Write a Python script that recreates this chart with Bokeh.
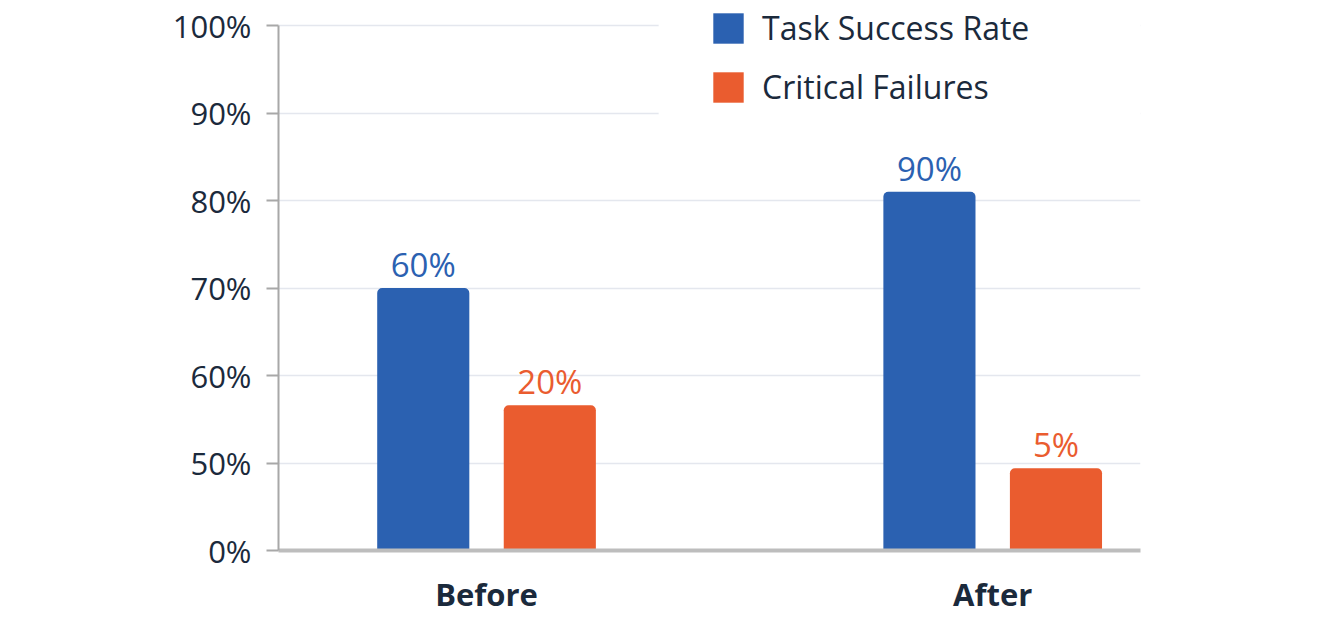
from bokeh.plotting import figure
from bokeh.models import (ColumnDataSource, Range1d, FixedTicker, Legend, LegendItem, VBar,
                          BoxAnnotation)
from bokeh.core.properties import value
from bokeh.embed import file_html
from bokeh.resources import INLINE

# ---- data ----
categories = ["Before", "After"]
success_labels = ["60%", "90%"]          # printed labels
failure_labels = ["20%", "5%"]
success_on_axis = [70, 81]               # bar tops as read on the drawn axis (%)
failure_on_axis = [56.6, 47]
tick_values = [0, 50, 60, 70, 80, 90, 100]
series_names = ["Task Success Rate", "Critical Failures"]

BLUE = "#2b61b1"
ORANGE = "#ea5c2f"
TEXT = "#1b2a3c"
FONT = "Open Sans"


def axis_pos(v):
    # broken axis: 0-50 occupies one step, then one step per 10%
    return v / 50.0 if v <= 50 else 1 + (v - 50) / 10.0


xs = list(range(len(categories)))
off = 0.125
src_s = ColumnDataSource(dict(x=[i - off for i in xs], top=[axis_pos(v) for v in success_on_axis], lab=success_labels))
src_f = ColumnDataSource(dict(x=[i + off for i in xs], top=[axis_pos(v) for v in failure_on_axis], lab=failure_labels))

p = figure(width=1305, height=619, output_backend="svg", toolbar_location=None,
           x_range=Range1d(-0.411, 1.292), y_range=Range1d(0, 6.286),
           min_border_left=278, min_border_right=165, min_border_top=0, min_border_bottom=69)
p.outline_line_color = None
p.background_fill_color = "white"

# hide the top grid lines behind the legend area
p.add_layout(BoxAnnotation(left=0.34, bottom=4.7, fill_color="white", fill_alpha=1,
                           line_color=None, level="underlay"))

bar_kw = {}
if "border_radius" in VBar.properties():
    bar_kw["border_radius"] = (5, 5, 0, 0)

r1 = p.vbar(x="x", top="top", bottom=0, width=0.182, source=src_s, fill_color=BLUE, line_color=None, **bar_kw)
r2 = p.vbar(x="x", top="top", bottom=0, width=0.182, source=src_f, fill_color=ORANGE, line_color=None, **bar_kw)

p.text(x="x", y="top", text="lab", source=src_s, text_align="center", text_baseline="bottom",
       y_offset=-1, text_font=value(FONT), text_font_size="33px", text_color=BLUE)
p.text(x="x", y="top", text="lab", source=src_f, text_align="center", text_baseline="bottom",
       y_offset=-1, text_font=value(FONT), text_font_size="33px", text_color=ORANGE)

# y axis
ypos = [axis_pos(v) for v in tick_values]
p.yaxis.ticker = FixedTicker(ticks=ypos)
p.yaxis.major_label_overrides = {y: f"{v}%" for y, v in zip(ypos, tick_values)}
p.yaxis.bounds = (0, 6)
p.yaxis.axis_line_color = "#a8a8a8"
p.yaxis.axis_line_width = 2
p.yaxis.major_tick_line_color = "#a8a8a8"
p.yaxis.major_tick_line_width = 2
p.yaxis.major_tick_out = 12
p.yaxis.major_tick_in = 0
p.yaxis.minor_tick_line_color = None
p.yaxis.major_label_standoff = 15
p.yaxis.major_label_text_font = FONT
p.yaxis.major_label_text_font_size = "31px"
p.yaxis.major_label_text_color = TEXT

# x axis
p.xaxis.ticker = FixedTicker(ticks=xs)
p.xaxis.major_label_overrides = {i: c for i, c in zip(xs, categories)}
p.xaxis.axis_line_color = "#bdbdbd"
p.xaxis.axis_line_width = 4
p.xaxis.major_tick_line_color = None
p.xaxis.minor_tick_line_color = None
p.xaxis.major_label_standoff = 16
p.xaxis.major_label_text_font = FONT
p.xaxis.major_label_text_font_size = "31px"
p.xaxis.major_label_text_font_style = "bold"
p.xaxis.major_label_text_color = TEXT

p.xgrid.grid_line_color = None
p.ygrid.grid_line_color = "#e4e7ee"
p.ygrid.grid_line_width = 1.5

legend = Legend(items=[LegendItem(label=series_names[0], renderers=[r1]),
                       LegendItem(label=series_names[1], renderers=[r2])],
                location=(431, 442), orientation="vertical",
                glyph_width=38, glyph_height=38, spacing=16,
                label_standoff=15, padding=0, margin=0,
                label_text_font=FONT, label_text_font_size="32px", label_text_color=TEXT,
                border_line_color=None, background_fill_alpha=0)
p.add_layout(legend)

open("out.html", "w").write(file_html(p, INLINE))
